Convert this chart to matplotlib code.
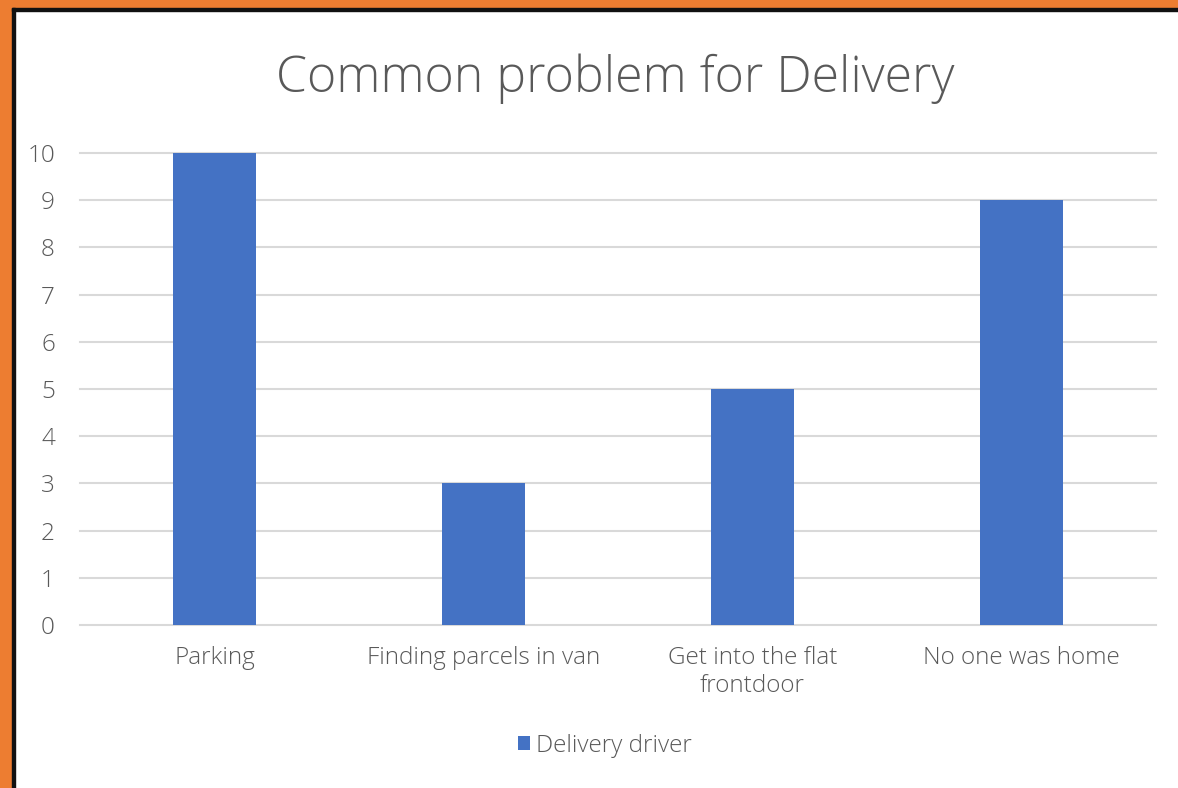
import matplotlib
matplotlib.use("Agg")
import matplotlib.pyplot as plt
from matplotlib.patches import Rectangle

categories = ["Parking", "Finding parcels in van", "Get into the flat\nfrontdoor", "No one was home"]
values = [10, 3, 5, 9]
series_name = "Delivery driver"
yticks = list(range(0, 11))
title = "Common problem for Delivery"

plt.rcParams['font.family'] = ['Open Sans', 'DejaVu Sans']
text_color = "#595959"
bar_color = "#4472C4"
grid_color = "#D9D9D9"

W, H = 1178, 788
fig = plt.figure(figsize=(W / 100, H / 100), dpi=100)
fig.patch.set_facecolor("white")

# orange frame (left and top) with dark inner edge
fig.patches.append(Rectangle((0, 0), 12 / W, 1, transform=fig.transFigure, color="#ED7D31", zorder=0))
fig.patches.append(Rectangle((0, 1 - 8 / H), 1, 8 / H, transform=fig.transFigure, color="#ED7D31", zorder=0))
fig.patches.append(Rectangle((12 / W, 0), 2.5 / W, 1 - 8 / H, transform=fig.transFigure, color="#111111", zorder=1))
fig.patches.append(Rectangle((12 / W, 1 - 10.5 / H), 1 - 12 / W, 2.5 / H, transform=fig.transFigure, color="#111111", zorder=1))

left, right = 80 / W, 1156 / W
bottom, top = 1 - 625 / H, 1 - 153 / H
ax = fig.add_axes([left, bottom, right - left, top - bottom])
x = list(range(len(categories)))
ax.bar(x, values, width=0.312, color=bar_color, label=series_name, zorder=3)
ax.set_xlim(-0.5, len(categories) - 0.5)
ax.set_ylim(0, 10)
ax.set_yticks(yticks)
ax.set_xticks(x)
ax.set_xticklabels(categories)
for s in ax.spines.values():
    s.set_visible(False)
ax.yaxis.grid(True, color=grid_color, linewidth=1.5, zorder=0)
for gl in ax.get_ygridlines():
    gl.set_clip_on(False)
ax.tick_params(axis="both", length=0, labelsize=17.5, colors=text_color)
ax.tick_params(axis="y", pad=18)
ax.tick_params(axis="x", pad=15)
for lbl in ax.get_xticklabels() + ax.get_yticklabels():
    lbl.set_fontweight("light")
    lbl.set_linespacing(1.25)

fig.text(0.522, 1 - 79 / H, title, ha="center", va="center", fontsize=36,
         color=text_color, fontweight="light")

leg = fig.legend(loc="center", bbox_to_anchor=(605 / W, 1 - 746 / H), frameon=False,
                 fontsize=17.5, handlelength=0.5, handleheight=0.5, handletextpad=0.25,
                 labelcolor=text_color)
for t in leg.get_texts():
    t.set_fontweight("light")

fig.savefig("out.png", dpi=100, facecolor="white")
